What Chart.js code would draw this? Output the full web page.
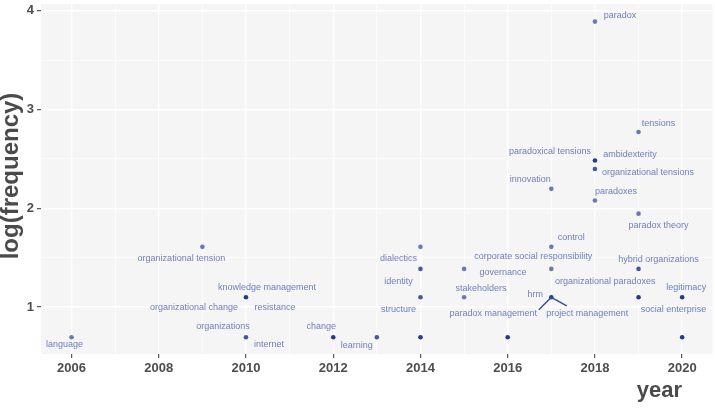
<!DOCTYPE html>
<html>
<head>
<meta charset="utf-8">
<script src="https://cdn.jsdelivr.net/npm/chart.js@4.4.1/dist/chart.umd.min.js"></script>
<style>
  body { margin: 0; background: #ffffff; }
  #wrap { width: 715px; height: 408px; position: relative; }
</style>
</head>
<body>
<div id="wrap"><canvas id="myChart"></canvas></div>
<script>
// one entry per point: publication year and keyword frequency
const years     = [2006, 2009, 2010, 2010, 2012, 2013, 2014, 2014, 2014, 2014, 2015, 2015, 2016,
                   2017, 2017, 2017, 2017, 2018, 2018, 2018, 2018, 2019, 2019, 2019, 2019, 2020, 2020];
const frequency = [2, 5, 3, 2, 2, 2, 5, 4, 3, 2, 4, 3, 2,
                   9, 5, 4, 3, 49, 12, 11, 8, 16, 7, 4, 3, 3, 2];

// keywords and the point each one belongs to
const terms = ['language', 'organizational tension', 'knowledge management', 'organizational change',
  'resistance', 'organizations', 'internet', 'change', 'learning', 'dialectics', 'identity', 'structure',
  'governance', 'stakeholders', 'innovation', 'control', 'corporate social responsibility',
  'organizational paradoxes', 'hrm', 'paradox management', 'project management', 'paradox',
  'paradoxical tensions', 'ambidexterity', 'organizational tensions', 'paradoxes', 'tensions',
  'paradox theory', 'hybrid organizations', 'social enterprise', 'legitimacy'];
const termPoint = [0, 1, 2, 2, 2, 3, 3, 4, 5, 6, 7, 8, 10, 11, 13, 14, 15, 15, 16, 16, 16, 17,
  18, 18, 19, 20, 21, 22, 23, 24, 25];

const xTicks = [2006, 2008, 2010, 2012, 2014, 2016, 2018, 2020];
const yTicks = [1, 2, 3, 4];

// ---- styling / label layout (repel result, pixel offsets from the point) ----
const tone = { light: '#6b79b3', mid: '#45579e', dark: '#233a8b' };
const pointTone = ['light', 'light', 'dark', 'mid', 'dark', 'mid', 'light', 'mid', 'mid', 'dark',
  'light', 'light', 'dark', 'light', 'light', 'light', 'dark', 'light', 'dark', 'mid', 'light',
  'light', 'light', 'mid', 'dark', 'dark', 'dark'];
const labelOffsets = [[-7, 7], [-21, 12], [21, -10], [-52, 10], [29, 10], [-23, -11], [23, 7],
  [-12, -11], [-20, 8], [-22, 12], [-22, 13], [-22, 12], [39, 4], [17, -9], [-21, -9], [20, -9],
  [-18, -12], [54, 13], [-16, -3], [-58, 16], [36, 16], [25, -6], [-45, -9], [35, -6], [53, 3],
  [21, -9], [20, -9], [20, 12], [20, -9], [35, 12], [4, -10]];
const segments = { 'paradox management': [-12.5, 12.5], 'project management': [15.5, 8.5] };

const FONT = '"Liberation Sans", Arial, sans-serif';

const pts = years.map((yr, i) => ({ x: yr, y: Math.log(frequency[i]) }));

const panelBg = {
  id: 'panelBg',
  beforeDraw(chart) {
    const { ctx, chartArea: a } = chart;
    ctx.save();
    ctx.fillStyle = '#ffffff';
    ctx.fillRect(0, 0, chart.width, chart.height);
    ctx.fillStyle = '#f5f5f5';
    ctx.fillRect(a.left, a.top, a.right - a.left, a.bottom - a.top);
    ctx.restore();
  }
};

const repelLabels = {
  id: 'repelLabels',
  afterDatasetsDraw(chart) {
    const ctx = chart.ctx;
    const meta = chart.getDatasetMeta(0);
    ctx.save();
    ctx.font = '9px ' + FONT;
    ctx.textAlign = 'center';
    ctx.textBaseline = 'middle';
    terms.forEach((t, i) => {
      const p = meta.data[termPoint[i]];
      const [dx, dy] = labelOffsets[i];
      if (segments[t]) {
        ctx.strokeStyle = '#3a4f9a';
        ctx.lineWidth = 1.5;
        ctx.beginPath();
        ctx.moveTo(p.x, p.y);
        ctx.lineTo(p.x + segments[t][0], p.y + segments[t][1]);
        ctx.stroke();
      }
      ctx.fillStyle = '#7080bb';
      ctx.fillText(t, p.x + dx, p.y + dy);
    });
    ctx.restore();
  }
};

const axisTitles = {
  id: 'axisTitles',
  afterDraw(chart) {
    const ctx = chart.ctx;
    ctx.save();
    ctx.fillStyle = '#4a4a4a';
    ctx.font = 'bold 22px ' + FONT;
    ctx.textAlign = 'right';
    ctx.textBaseline = 'alphabetic';
    ctx.fillText('year', 682, 397);
    ctx.translate(18, 176);
    ctx.rotate(-Math.PI / 2);
    ctx.textAlign = 'center';
    ctx.font = 'bold 24px ' + FONT;
    ctx.fillText('log(frequency)', 0, 0);
    ctx.restore();
  }
};

const isMajorX = v => xTicks.includes(v);
const isMajorY = v => yTicks.includes(v);

new Chart(document.getElementById('myChart'), {
  type: 'scatter',
  data: {
    datasets: [{
      data: pts,
      pointRadius: 2.3,
      pointHoverRadius: 2.3,
      borderWidth: 0,
      pointBackgroundColor: pointTone.map(k => tone[k])
    }]
  },
  options: {
    responsive: true,
    maintainAspectRatio: false,
    animation: false,
    events: [],
    layout: { padding: { top: 4, right: 1, left: 0, bottom: 0 } },
    plugins: { legend: { display: false }, tooltip: { enabled: false } },
    scales: {
      x: {
        type: 'linear',
        min: 2005.3,
        max: 2020.7,
        afterFit: s => { s.height = 54; s.paddingLeft = 0; s.paddingRight = 0; },
        border: { display: false },
        grid: {
          color: '#ffffff',
          lineWidth: c => isMajorX(c.tick.value) ? 1.4 : 0.7,
          tickColor: c => isMajorX(c.tick.value) ? '#333333' : 'rgba(0,0,0,0)',
          tickLength: 4,
          tickWidth: 1
        },
        ticks: {
          stepSize: 1,
          includeBounds: false,
          autoSkip: false,
          maxRotation: 0,
          padding: 3,
          color: '#4d4d4d',
          font: { family: FONT, size: 13, weight: 'bold' },
          callback: v => isMajorX(v) ? String(v) : ''
        }
      },
      y: {
        min: 0.524,
        max: 4.07,
        afterFit: s => { s.width = 41; s.paddingTop = 0; s.paddingBottom = 0; },
        border: { display: false },
        grid: {
          color: '#ffffff',
          lineWidth: c => isMajorY(c.tick.value) ? 1.4 : 0.7,
          tickColor: c => isMajorY(c.tick.value) ? '#333333' : 'rgba(0,0,0,0)',
          tickLength: 4,
          tickWidth: 1
        },
        ticks: {
          stepSize: 0.5,
          includeBounds: false,
          autoSkip: false,
          padding: 3,
          color: '#4d4d4d',
          font: { family: FONT, size: 13, weight: 'bold' },
          callback: v => isMajorY(v) ? String(v) : ''
        }
      }
    }
  },
  plugins: [panelBg, repelLabels, axisTitles]
});
</script>
</body>
</html>
